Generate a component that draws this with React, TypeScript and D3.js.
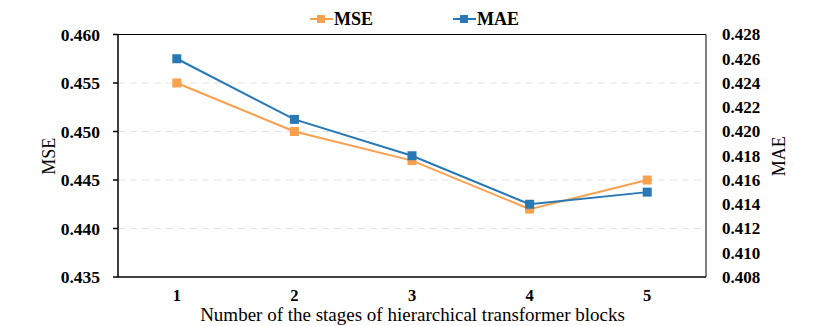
import { useEffect, useRef } from "react";
import * as d3 from "d3";

const stages = ["1", "2", "3", "4", "5"];
const mseValues = [0.455, 0.45, 0.447, 0.442, 0.445];
const maeValues = [0.426, 0.421, 0.418, 0.414, 0.415];
const mseTicks = [0.435, 0.44, 0.445, 0.45, 0.455, 0.46];
const maeTicks = [0.408, 0.41, 0.412, 0.414, 0.416, 0.418, 0.42, 0.422, 0.424, 0.426, 0.428];

const ORANGE = "#F9A04F";
const BLUE = "#2878B5";
const FONT = "Liberation Serif, Times New Roman, serif";

export default function App() {
  const ref = useRef<SVGSVGElement>(null);

  useEffect(() => {
    const svg = d3.select(ref.current);
    svg.selectAll("*").remove();

    const width = 830;
    const height = 326;
    const margin = { top: 34.5, right: 124, bottom: 49, left: 118 };
    const innerW = width - margin.left - margin.right;
    const innerH = height - margin.top - margin.bottom;

    const x = d3.scaleBand().domain(stages).range([0, innerW]);
    const yL = d3.scaleLinear().domain([0.435, 0.46]).range([innerH, 0]);
    const yR = d3.scaleLinear().domain([0.408, 0.428]).range([innerH, 0]);

    const g = svg
      .append("g")
      .attr("transform", `translate(${margin.left},${margin.top})`);

    // dashed gridlines at inner MSE ticks
    g.append("g")
      .selectAll("line")
      .data(mseTicks.filter((t) => t > 0.435 && t < 0.46))
      .join("line")
      .attr("x1", 0)
      .attr("x2", innerW)
      .attr("y1", (d) => yL(d))
      .attr("y2", (d) => yL(d))
      .attr("stroke", "#e3e3e3")
      .attr("stroke-width", 1)
      .attr("stroke-dasharray", "7,5");

    // frame
    g.append("line")
      .attr("x1", 0).attr("x2", innerW).attr("y1", 0).attr("y2", 0)
      .attr("stroke", "#000").attr("stroke-width", 1);
    g.append("line")
      .attr("x1", innerW).attr("x2", innerW).attr("y1", 0).attr("y2", innerH)
      .attr("stroke", "#000").attr("stroke-width", 1);
    g.append("line")
      .attr("x1", 0).attr("x2", innerW).attr("y1", innerH).attr("y2", innerH)
      .attr("stroke", "#000").attr("stroke-width", 1.5);
    g.append("line")
      .attr("x1", 0).attr("x2", 0).attr("y1", 0).attr("y2", innerH)
      .attr("stroke", "#000").attr("stroke-width", 1.5);

    // left ticks + labels
    g.append("g")
      .selectAll("line")
      .data(mseTicks)
      .join("line")
      .attr("x1", -5)
      .attr("x2", 0)
      .attr("y1", (d) => yL(d))
      .attr("y2", (d) => yL(d))
      .attr("stroke", "#000")
      .attr("stroke-width", 1.5);

    g.append("g")
      .selectAll("text")
      .data(mseTicks)
      .join("text")
      .attr("x", -18)
      .attr("y", (d) => yL(d))
      .attr("dy", "0.35em")
      .attr("text-anchor", "end")
      .attr("font-family", FONT)
      .attr("font-weight", "bold")
      .attr("font-size", 17.5)
      .text((d) => d3.format(".3f")(d));

    // right labels
    g.append("g")
      .selectAll("text")
      .data(maeTicks)
      .join("text")
      .attr("x", innerW + 16)
      .attr("y", (d) => yR(d))
      .attr("dy", "0.35em")
      .attr("text-anchor", "start")
      .attr("font-family", FONT)
      .attr("font-weight", "bold")
      .attr("font-size", 17)
      .text((d) => d3.format(".3f")(d));

    // x labels
    g.append("g")
      .selectAll("text")
      .data(stages)
      .join("text")
      .attr("x", (d) => x(d)! + x.bandwidth() / 2)
      .attr("y", innerH + 23.5)
      .attr("text-anchor", "middle")
      .attr("font-family", FONT)
      .attr("font-weight", "bold")
      .attr("font-size", 16.5)
      .text((d) => d);

    // axis titles
    g.append("text")
      .attr("x", innerW / 2 + 0.5)
      .attr("y", innerH + 43.5)
      .attr("text-anchor", "middle")
      .attr("font-family", FONT)
      .attr("font-size", 19)
      .text("Number of the stages of hierarchical transformer blocks");

    g.append("text")
      .attr("transform", `translate(${-63},${innerH / 2 + 0.5}) rotate(-90)`)
      .attr("text-anchor", "middle")
      .attr("font-family", FONT)
      .attr("font-size", 18)
      .text("MSE");

    g.append("text")
      .attr("transform", `translate(${innerW + 79},${innerH / 2 + 0.5}) rotate(-90)`)
      .attr("text-anchor", "middle")
      .attr("font-family", FONT)
      .attr("font-size", 18)
      .text("MAE");

    const cx = (i: number) => x(stages[i])! + x.bandwidth() / 2;

    const series = [
      { values: mseValues, scale: yL, color: ORANGE },
      { values: maeValues, scale: yR, color: BLUE },
    ];

    series.forEach((s) => {
      const line = d3
        .line<number>()
        .x((_, i) => cx(i))
        .y((d) => s.scale(d));
      g.append("path")
        .datum(s.values)
        .attr("d", line)
        .attr("fill", "none")
        .attr("stroke", s.color)
        .attr("stroke-width", 2);
      g.append("g")
        .selectAll("rect")
        .data(s.values)
        .join("rect")
        .attr("x", (_, i) => cx(i) - 4.5)
        .attr("y", (d) => s.scale(d) - 4.5)
        .attr("width", 9)
        .attr("height", 9)
        .attr("fill", s.color);
    });

    // legend
    const legend = [
      { label: "MSE", color: ORANGE, x: 310 },
      { label: "MAE", color: BLUE, x: 453 },
    ];
    const lg = svg.append("g");
    legend.forEach((l) => {
      lg.append("line")
        .attr("x1", l.x)
        .attr("x2", l.x + 23)
        .attr("y1", 19)
        .attr("y2", 19)
        .attr("stroke", l.color)
        .attr("stroke-width", 2);
      lg.append("rect")
        .attr("x", l.x + 7)
        .attr("y", 15)
        .attr("width", 8)
        .attr("height", 8)
        .attr("fill", l.color);
      lg.append("text")
        .attr("x", l.x + 24)
        .attr("y", 19)
        .attr("dy", "0.35em")
        .attr("font-family", FONT)
        .attr("font-weight", "bold")
        .attr("font-size", 18)
        .text(l.label);
    });
  }, []);

  return (
    <svg
      ref={ref}
      width={830}
      height={326}
      style={{ position: "absolute", left: 0, top: 0, background: "#fff" }}
    />
  );
}
